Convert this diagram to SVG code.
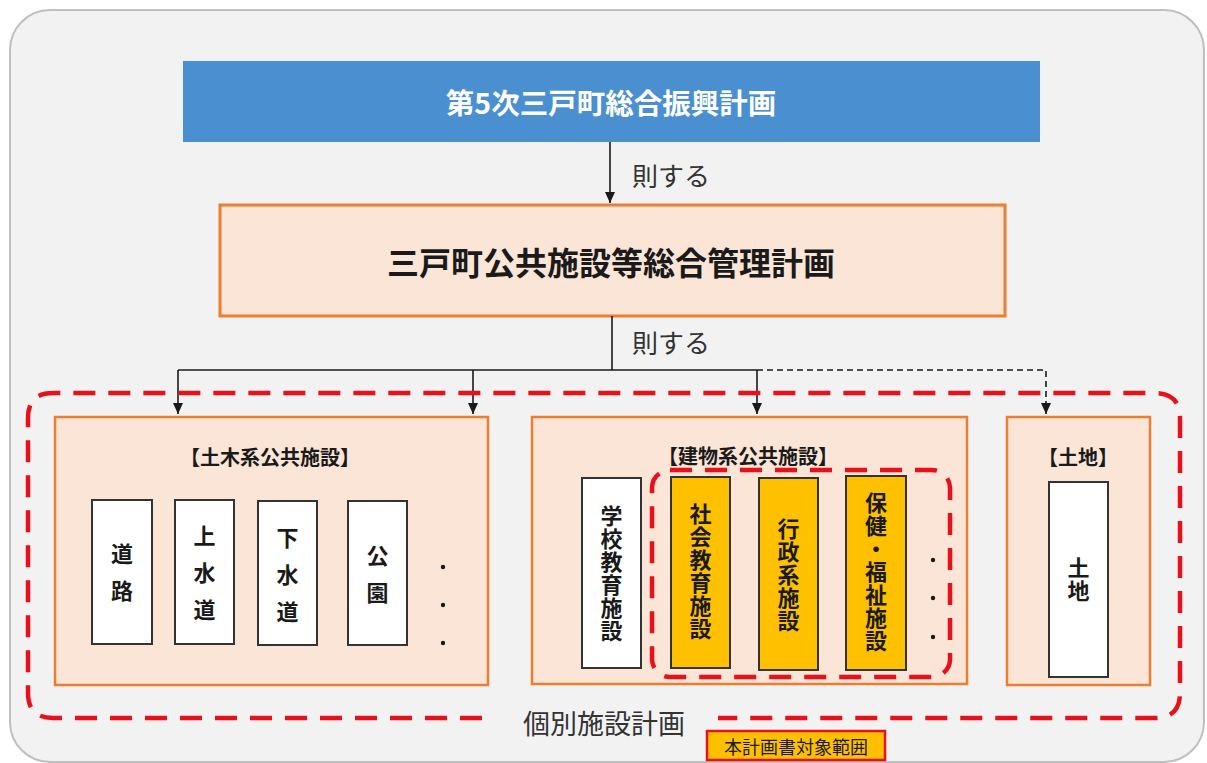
<svg xmlns="http://www.w3.org/2000/svg" width="1207" height="763" viewBox="0 0 1207 763">
<style>
text{font-family:"Noto Sans CJK JP","Noto Sans CJK SC",sans-serif;}
.grp{fill:#fbe5d6;stroke:#ed7d31;stroke-width:2.5;}
.wbox{fill:#ffffff;stroke:#333333;stroke-width:2;}
.ybox{fill:#ffc000;stroke:#333333;stroke-width:2;}
.ttl{font-size:20px;font-weight:bold;fill:#1a1a1a;text-anchor:middle;dominant-baseline:central;}
.col{font-size:22px;font-weight:bold;fill:#1a1a1a;text-anchor:middle;writing-mode:vertical-rl;}
.tight{letter-spacing:1px;}
.wide{letter-spacing:15px;}
.lbl{font-size:26px;fill:#333333;dominant-baseline:central;}
.red{fill:none;stroke:#e8101a;stroke-width:4.5;stroke-dasharray:22 13;}
.con{fill:none;stroke:#1a1a1a;stroke-width:1.6;}
.dot{fill:#1a1a1a;}
</style>
<defs>
<marker id="arr" markerWidth="12" markerHeight="12" refX="11" refY="6" orient="auto" markerUnits="userSpaceOnUse">
<path d="M0,1 L11,6 L0,11 Z" fill="#1a1a1a"/>
</marker>
</defs>
<rect x="10" y="10" width="1194" height="752" rx="40" fill="#f2f2f2" stroke="#bfbfbf" stroke-width="2"/>

<g id="plan5">
<rect x="183" y="61" width="857" height="81" fill="#4a90d0"/>
<text x="611" y="101" font-size="28.5" font-weight="bold" fill="#ffffff" text-anchor="middle" dominant-baseline="central">第5次三戸町総合振興計画</text>
</g>

<g id="mgmt">
<rect x="220" y="205" width="785" height="111" fill="#fbe5d6" stroke="#ed7d31" stroke-width="3"/>
<text x="611" y="261" font-size="32" font-weight="bold" fill="#1a1a1a" text-anchor="middle" dominant-baseline="central">三戸町公共施設等総合管理計画</text>
</g>

<g id="connectors">
<line class="con" x1="610" y1="142" x2="610" y2="203" marker-end="url(#arr)"/>
<text class="lbl" x="632" y="174">則する</text>
<line class="con" x1="612" y1="316" x2="612" y2="370"/>
<text class="lbl" x="632" y="341">則する</text>
<line class="con" x1="178" y1="370" x2="757" y2="370"/>
<line class="con" x1="178" y1="370" x2="178" y2="414" marker-end="url(#arr)"/>
<line class="con" x1="473" y1="370" x2="473" y2="414" marker-end="url(#arr)"/>
<line class="con" x1="757" y1="370" x2="757" y2="414" marker-end="url(#arr)"/>
<polyline class="con" points="757,370 1046,370 1046,414" stroke-dasharray="6 4" marker-end="url(#arr)"/>
</g>

<g id="civil">
<rect class="grp" x="55" y="417" width="433" height="268"/>
<text class="ttl" x="270" y="456">【土木系公共施設】</text>
<rect class="wbox" x="92" y="500" width="60" height="144"/>
<text class="col wide" x="122" y="580">道路</text>
<rect class="wbox" x="175" y="500" width="59" height="144"/>
<text class="col wide" x="204.5" y="580">上水道</text>
<rect class="wbox" x="258" y="501" width="59" height="144"/>
<text class="col wide" x="287.5" y="582">下水道</text>
<rect class="wbox" x="348" y="501" width="59" height="144"/>
<text class="col wide" x="377.5" y="582">公園</text>
<circle class="dot" cx="443" cy="567" r="2.2"/>
<circle class="dot" cx="443" cy="605" r="2.2"/>
<circle class="dot" cx="443" cy="643" r="2.2"/>
</g>

<g id="building">
<rect class="grp" x="532" y="417" width="435" height="267"/>
<text class="ttl" x="748" y="455">【建物系公共施設】</text>
<rect class="wbox" x="582" y="478" width="59" height="190"/>
<text class="col tight" x="611.5" y="574">学校教育施設</text>
<rect class="ybox" x="671" y="477" width="59" height="191"/>
<text class="col tight" x="700.5" y="572">社会教育施設</text>
<rect class="ybox" x="759" y="478" width="59" height="192"/>
<text class="col tight" x="788.5" y="575">行政系施設</text>
<rect class="ybox" x="846" y="476" width="60" height="194"/>
<text class="col tight" x="876" y="572">保健・福祉施設</text>
<circle class="dot" cx="933" cy="560" r="2.2"/>
<circle class="dot" cx="933" cy="598" r="2.2"/>
<circle class="dot" cx="933" cy="637" r="2.2"/>
<rect class="red" x="652" y="470" width="298" height="207" rx="18" stroke-width="4"/>
</g>

<g id="land">
<rect class="grp" x="1007" y="417" width="143" height="268"/>
<text class="ttl" x="1078" y="456">【土地】</text>
<rect class="wbox" x="1049" y="482" width="59" height="195"/>
<text class="col tight" x="1078.5" y="580">土地</text>
</g>

<g id="individual">
<path class="red" d="M482,718 L53,718 Q28,718 28,693 L28,418 Q28,393 53,393 L1155,393 Q1180,393 1180,418 L1180,693 Q1180,718 1155,718 L718,718"/>
<text x="604" y="722" font-size="27" fill="#333333" text-anchor="middle" dominant-baseline="central">個別施設計画</text>
</g>

<g id="legend">
<rect x="707" y="731" width="178" height="29" fill="#ffc000" stroke="#e8101a" stroke-width="2.5"/>
<text x="796" y="745.5" font-size="18" fill="#1a1a1a" text-anchor="middle" dominant-baseline="central">本計画書対象範囲</text>
</g>
</svg>
